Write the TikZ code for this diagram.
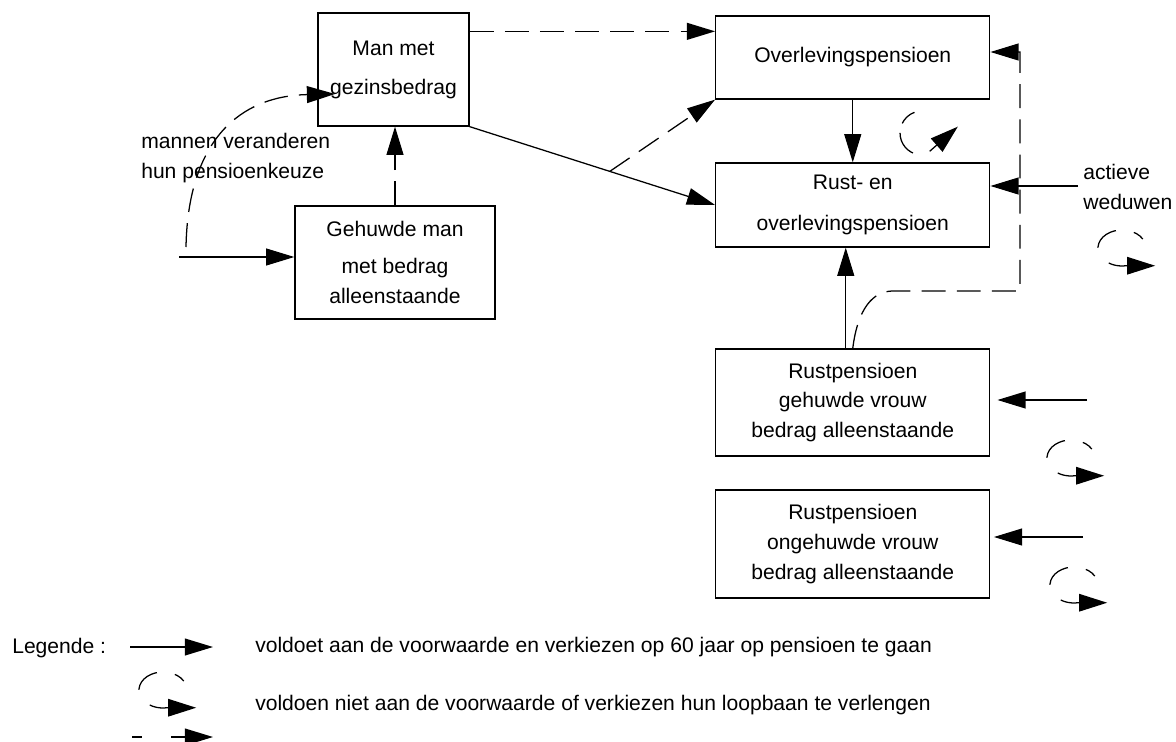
\documentclass[tikz,border=0pt]{standalone}
\usepackage{fontspec}
\setmainfont{Liberation Sans}
\usetikzlibrary{arrows.meta,calc}

\tikzset{
  blok/.style={draw, line width=0.9pt, align=center, inner sep=0pt},
  pijl/.style={line width=0.9pt, -{Triangle[length=20pt,width=12pt]}},
  streep/.style={pijl, dash pattern=on 17pt off 8pt},
  lus/.pic={
    \draw[line width=0.9pt, -{Triangle[length=20pt,width=12.5pt]},
          dash pattern=on 8pt off 13pt on 19pt off 14pt on 100pt]
      (-30:24 and 18) arc[start angle=-30, end angle=-280, x radius=24, y radius=18] -- ++(29,0);
  }
}

\begin{document}
\begin{tikzpicture}[x=0.025cm, y=-0.025cm, every node/.style={inner sep=0pt, font=\fontsize{15pt}{21.3pt}\selectfont}]
\useasboundingbox (0,0) rectangle (1176,742);

% blokken
\node[blok, minimum width=3.775cm, minimum height=2.825cm] (man) at (393.5,69.5) {Man met\\[6.4pt]gezinsbedrag};
\node[blok, minimum width=5cm, minimum height=2.825cm] (gehuwd) at (395,262.5) {Gehuwde man\\[5.5pt]met bedrag\\alleenstaande};
\node[blok, minimum width=6.85cm, minimum height=2.075cm] (overl) at (852.75,57.5) {\raisebox{4pt}{Overlevingspensioen}};
\node[blok, minimum width=6.85cm, minimum height=2.1cm] (rusten) at (852.75,205) {Rust- en\\[7.9pt]overlevingspensioen};
\node[blok, minimum width=6.85cm, minimum height=2.675cm] (rustgeh) at (852.75,402.5) {Rustpensioen\\gehuwde vrouw\\bedrag alleenstaande};
\node[blok, minimum width=6.85cm, minimum height=2.7cm] (rustongeh) at (852.75,544) {Rustpensioen\\ongehuwde vrouw\\bedrag alleenstaande};

% teksten
\node[align=left, anchor=west] (keuzetxt) at (141,158) {mannen veranderen\\hun pensioenkeuze};
\node[align=left, anchor=west] (wedtxt) at (1083,187) {actieve\\weduwen};

% pijlen links
\coordinate (inman) at (179,257);
\draw[pijl] (inman) -- (inman -| gehuwd.west);
\coordinate (keuze) at (186,247);
\coordinate (keuzetip) at (335,94);
\draw[streep] (keuze) .. controls (188,140) and (240,96) .. (keuzetip);
\draw[streep] (gehuwd.north) -- (gehuwd.north |- man.south);
\coordinate (manuit) at ($(man.north east)+(0,19)$);
\draw[streep] (manuit) -- (manuit -| overl.west);
\draw[pijl] (man.south east) -- coordinate[pos=0.571] (splits) (rusten.west);
\draw[streep] (splits) -- (overl.south west);

% pijlen rechts
\draw[pijl] (overl.south) -- (rusten.north);
\coordinate (opw) at ($(rustgeh.north)+(-7,0)$);
\draw[pijl] (opw) -- (opw |- rusten.south);
\coordinate (terug) at (1020,52);
\draw[streep] (rustgeh.north) .. controls +(5,-40) and +(-20,0) .. (893,291) -| (terug) -- (terug -| overl.east);
\coordinate (wed) at (1078,186);
\draw[pijl] (wed) -- (wed -| rusten.east);
\coordinate (ingeh) at (1087,400);
\draw[pijl, shorten >=5pt] (ingeh) -- (ingeh -| rustgeh.east);
\coordinate (inongeh) at (1083,537);
\draw[pijl, shorten >=2.5pt] (inongeh) -- (inongeh -| rustongeh.east);

% lussen
\draw[line width=0.9pt, -{Triangle[length=20pt,width=12.5pt]}, dash pattern=on 12pt off 7pt on 18pt off 13pt on 100pt]
  (922,133) ++(-110:22) arc[start angle=-110, end angle=-280, radius=22] -- ++(32,-28);
\pic at (1122,248) {lus};
\pic at (1071,458) {lus};
\pic at (1074,585) {lus};

% legende
\node[anchor=west] (legende) at (12,648) {Legende :};
\coordinate (leg1) at (130,647);
\draw[pijl] (leg1) -- ++(83,0);
\node[anchor=west] (legtxt1) at (255,647) {voldoet aan de voorwaarde en verkiezen op 60 jaar op pensioen te gaan};
\pic at (163,690) {lus};
\node[anchor=west] (legtxt2) at (255,705) {voldoen niet aan de voorwaarde of verkiezen hun loopbaan te verlengen};
\coordinate (leg3) at (132,737);
\draw[pijl, dash pattern=on 7pt off 21pt on 100pt] (leg3) -- ++(81,0);
\end{tikzpicture}
\end{document}
